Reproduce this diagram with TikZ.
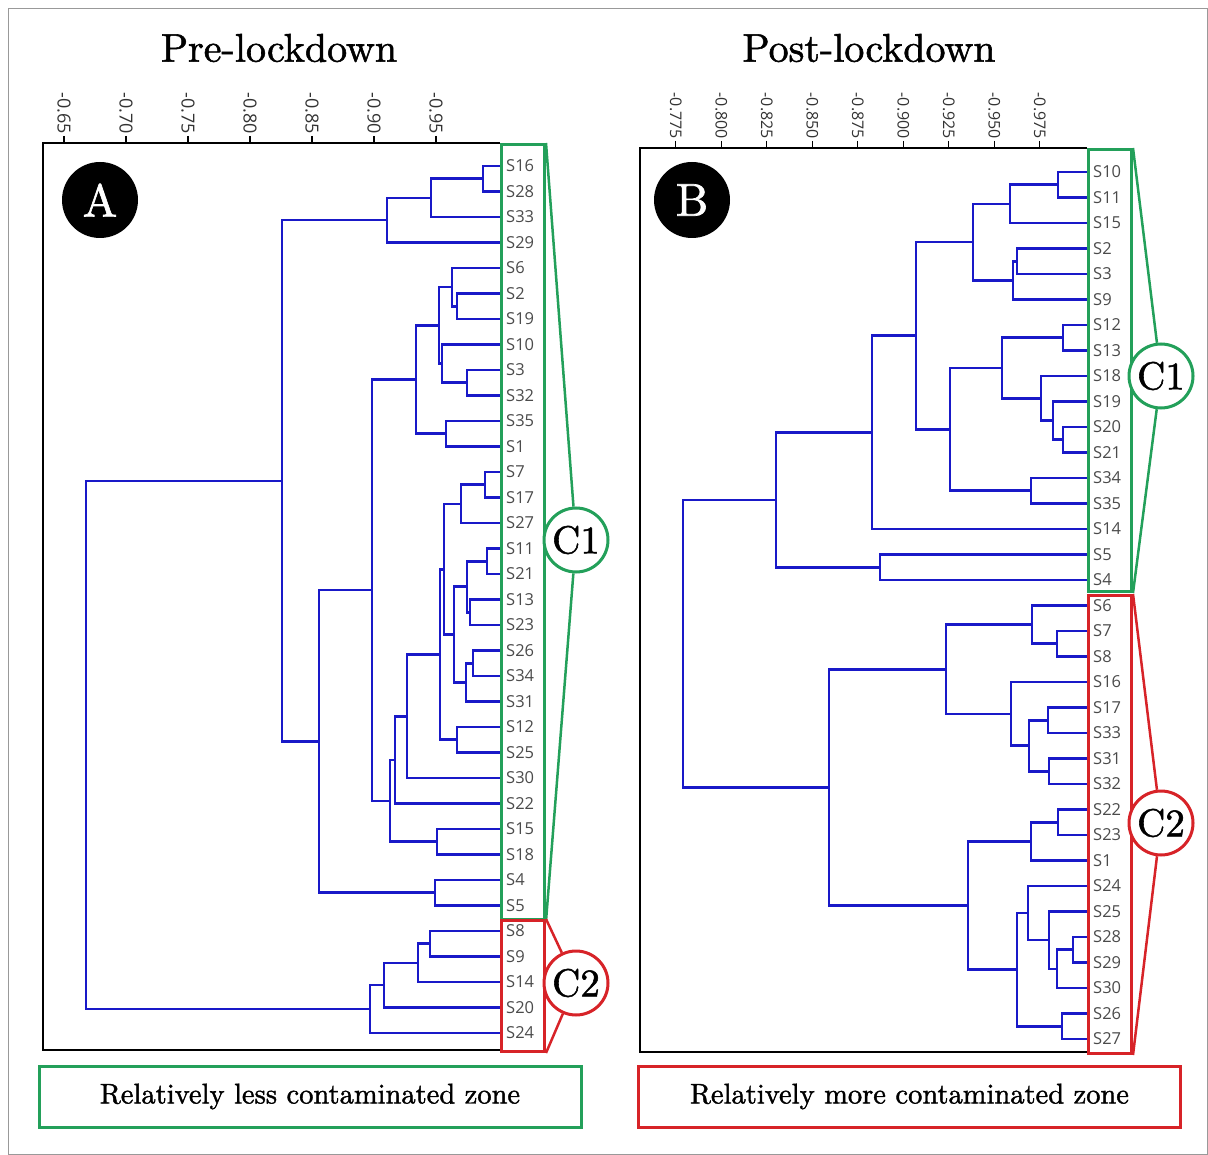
\documentclass[tikz,border=0pt]{standalone}
\usepackage{fontspec}
\newfontfamily\leaffont{Open Sans}
\newfontfamily\headfont[FakeBold=1.4]{lmroman10-regular.otf}
\usetikzlibrary{calc}
\definecolor{treeblue}{RGB}{25,25,200}
\definecolor{zonegreen}{RGB}{35,160,90}
\definecolor{zonered}{RGB}{215,35,40}
\definecolor{leafgray}{RGB}{75,75,75}
% join two clusters at height #4 and name the new cluster #1
\newcommand\clusterjoin[4]{%
  \draw[branch] let \p1=(#2), \p2=(#3) in (#2) -- (#4pt,\y1) -- (#4pt,\y2) -- (#3);
  \path let \p1=(#2), \p2=(#3) in (#4pt,{0.5*(\y1+\y2)}) coordinate (#1);
}
\begin{document}
\begin{tikzpicture} [
                x=1pt, y=-1pt,
                leaf/.style={anchor=west, inner xsep=6pt, inner ysep=1pt, text=leafgray, font=\leaffont\fontsize{16.5}{16.5}\selectfont},
                branch/.style={draw=treeblue, line width=2.6pt},
                plotframe/.style={draw=black, line width=2pt},
                axistick/.style={draw=black, line width=1.2pt},
                ticklabel/.style={rotate=-90, anchor=east, inner sep=1pt, text=black!80},
                badge/.style={circle, fill=black, text=white, minimum size=76pt, inner sep=0pt, font=\headfont\fontsize{46}{46}\selectfont},
                groupbox/.style={draw, line width=3pt, anchor=north west, minimum width=43pt, inner sep=0pt},
                clustertag/.style={circle, draw, line width=3pt, fill=white, minimum size=64pt, inner sep=0pt, font=\headfont\fontsize{39}{39}\selectfont},
                zonebox/.style={draw, line width=3pt, minimum width=542pt, minimum height=61pt, font=\headfont\fontsize{28.5}{28.5}\selectfont},
                paneltitle/.style={font=\headfont\fontsize{40}{40}\selectfont},
            ]
            \useasboundingbox (0,0) rectangle (1208,1155);
            \draw[black!40, line width=0.8pt] (8,8) rectangle (1207,1154);
            % Titles and panel badges
            \node[paneltitle] (title-A) at (279,48) {Pre-lockdown};
            \node[paneltitle] (title-B) at (869,48) {Post-lockdown};
            % Axes of both panels
            \draw[plotframe] (500,143) -- (43,143) -- (43,1050) -- (500,1050);
            \draw[plotframe] (1087,148) -- (640,148) -- (640,1052) -- (1087,1052);
            \foreach \v [count=\k from 0] in {0.65,0.70,0.75,0.80,0.85,0.90,0.95} {
                \draw[axistick] ({64+62*\k},136) -- ({64+62*\k},143);
                \node[ticklabel, font=\leaffont\fontsize{18}{18}\selectfont] at ({64+62*\k},135) {-\v};
            }
            \foreach \v [count=\k from 0] in {0.775,0.800,0.825,0.850,0.875,0.900,0.925,0.950,0.975} {
                \draw[axistick] ({675.7+45.5*\k},141) -- ({675.7+45.5*\k},148);
                \node[ticklabel, font=\leaffont\fontsize{16}{16}\selectfont] at ({675.7+45.5*\k},140) {-\v};
            }
            \node[badge] (badge-A) at (100,200) {A};
            \node[badge] (badge-B) at (692,200) {B};
            % Leaves
            \foreach \s [count=\i from 0] in {16,28,33,29,6,2,19,10,3,32,35,1,7,17,27,11,21,13,23,26,34,31,12,25,30,22,15,18,4,5,8,9,14,20,24}
                \node[leaf] (A-S\s) at (500,{166+25.5*\i}) {S\s};
            \foreach \s [count=\i from 0] in {10,11,15,2,3,9,12,13,18,19,20,21,34,35,14,5,4,6,7,8,16,17,33,31,32,22,23,1,24,25,28,29,30,26,27}
                \node[leaf] (B-S\s) at (1087,{172+25.5*\i}) {S\s};
            % Dendrogram A
            \foreach \nm/\ca/\cb/\hgt in {
                    a1/A-S16/A-S28/483, a2/a1/A-S33/431, a3/a2/A-S29/387,
                    a4/A-S2/A-S19/457, a5/A-S6/a4/452, a6/A-S3/A-S32/467, a7/A-S10/a6/442,
                    a8/a5/a7/439, a9/A-S35/A-S1/446, a10/a8/a9/416,
                    a11/A-S7/A-S17/485, a12/a11/A-S27/461, a13/A-S11/A-S21/487,
                    a14/A-S13/A-S23/470, a15/a13/a14/467, a16/A-S26/A-S34/473,
                    a17/a16/A-S31/466, a18/a15/a17/454, a19/a12/a18/444,
                    a20/A-S12/A-S25/457, a21/a19/a20/440, a22/a21/A-S30/407,
                    a23/a22/A-S22/395, a24/A-S15/A-S18/437, a25/a23/a24/390,
                    a26/a10/a25/372, a27/A-S4/A-S5/435, a28/a26/a27/319, a29/a3/a28/282,
                    a30/A-S8/A-S9/430, a31/a30/A-S14/418, a32/a31/A-S20/384,
                    a33/a32/A-S24/370, a34/a29/a33/86}
                \clusterjoin{\nm}{\ca}{\cb}{\hgt}
            % Dendrogram B
            \foreach \nm/\ca/\cb/\hgt in {
                    b1/B-S10/B-S11/1058, b2/b1/B-S15/1010, b3/B-S2/B-S3/1017, b4/b3/B-S9/1013,
                    b5/b2/b4/973, b6/B-S12/B-S13/1063, b7/B-S20/B-S21/1063, b8/B-S19/b7/1053,
                    b9/B-S18/b8/1041, b10/b6/b9/1002, b11/B-S34/B-S35/1031, b12/b10/b11/950,
                    b13/b5/b12/916, b14/b13/B-S14/872, b15/B-S5/B-S4/880, b16/b14/b15/776,
                    b17/B-S7/B-S8/1057, b18/B-S6/b17/1032, b19/B-S17/B-S33/1048,
                    b20/B-S31/B-S32/1049, b21/b19/b20/1029, b22/B-S16/b21/1011, b23/b18/b22/946,
                    b24/B-S22/B-S23/1058, b25/b24/B-S1/1031, b26/B-S28/B-S29/1073,
                    b27/b26/B-S30/1057, b28/B-S25/b27/1049, b29/B-S24/b28/1028,
                    b30/B-S26/B-S27/1062, b31/b29/b30/1017, b32/b25/b31/968,
                    b33/b23/b32/829, b34/b16/b33/683}
                \clusterjoin{\nm}{\ca}{\cb}{\hgt}
            % Cluster boxes and tags
            \node[groupbox, draw=zonegreen, minimum height=775pt] (A-box1) at (500,143) {};
            \node[groupbox, draw=zonered, minimum height=131pt] (A-box2) at (500,919) {};
            \node[groupbox, draw=zonegreen, minimum height=442pt] (B-box1) at (1087,148) {};
            \node[groupbox, draw=zonered, minimum height=458pt] (B-box2) at (1087,594) {};
            \node[clustertag, draw=zonegreen] (A-C1) at (576,540) {C1};
            \node[clustertag, draw=zonered] (A-C2) at (576,983) {C2};
            \node[clustertag, draw=zonegreen] (B-C1) at (1161,376) {C1};
            \node[clustertag, draw=zonered] (B-C2) at (1161,823) {C2};
            \foreach \bx/\tg/\col in {A-box1/A-C1/zonegreen, A-box2/A-C2/zonered, B-box1/B-C1/zonegreen, B-box2/B-C2/zonered} {
                \draw[\col, line width=2.5pt] (\bx.north east) -- (\tg);
                \draw[\col, line width=2.5pt] (\bx.south east) -- (\tg);
            }
            % Zone legend
            \node[zonebox, draw=zonegreen] (zone-less) at (310,1096.5) {Relatively less contaminated zone};
            \node[zonebox, draw=zonered] (zone-more) at (909.5,1096.5) {Relatively more contaminated zone};
        \end{tikzpicture}
\end{document}
